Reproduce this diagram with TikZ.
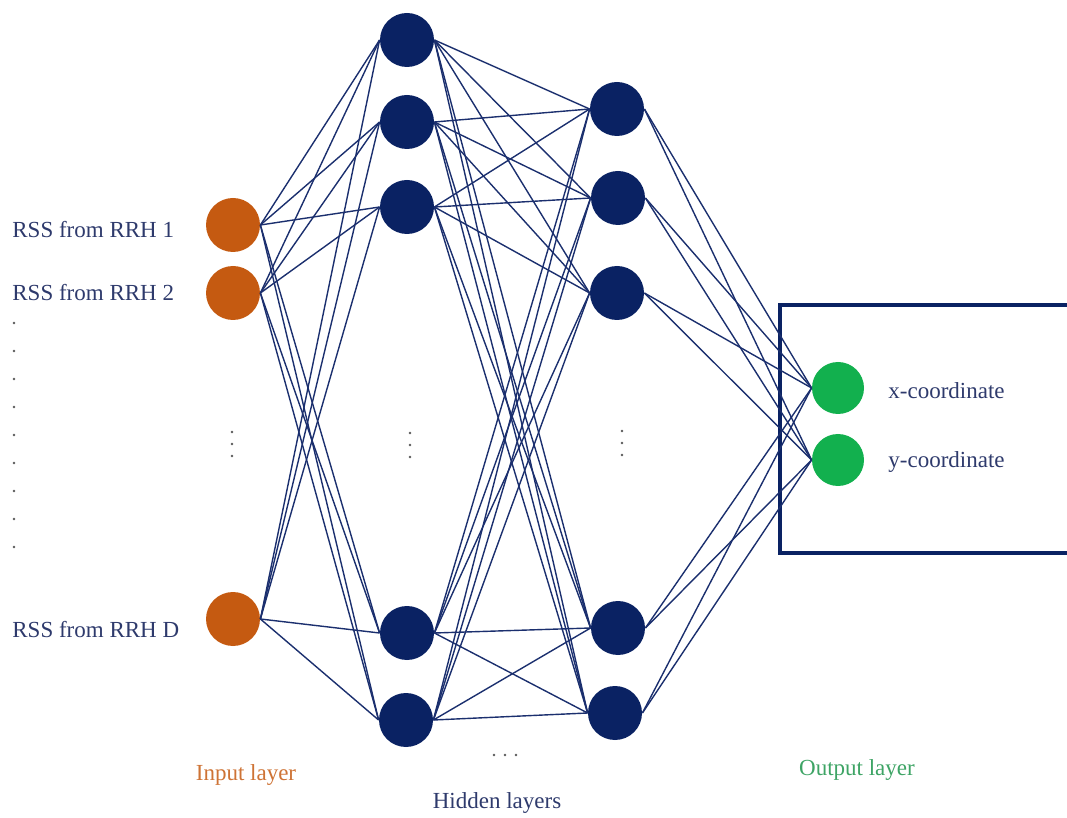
\documentclass[tikz,border=0pt]{standalone}
\usepackage{fontspec}
\setmainfont{Liberation Serif}
\definecolor{navy}{HTML}{0A2263}
\definecolor{wire}{HTML}{1B2F6E}
\definecolor{inorange}{HTML}{C55A11}
\definecolor{outgreen}{HTML}{12B04E}
\definecolor{txtblue}{HTML}{2E3A6C}

\begin{document}
\begin{tikzpicture} [
  x=0.5pt, y=-0.5pt,
  inp/.style={circle, fill=inorange, minimum size=27pt, inner sep=0pt},
  hid/.style={circle, fill=navy, minimum size=27pt, inner sep=0pt},
  outp/.style={circle, fill=outgreen, minimum size=26pt, inner sep=0pt},
  lbl/.style={text=txtblue, font=\fontsize{11.5}{14}\selectfont, inner sep=0pt},
  heading/.style={font=\fontsize{11.5}{14}\selectfont, inner sep=0pt}
  ]
  \useasboundingbox (0,0) rectangle (1067,818);

  % output box
  \draw[navy, line width=1.6pt] (780,305) rectangle (1080,553);

  % input layer
  \node(i1)[inp] at (233,225) {};
  \node(i2)[inp] at (233,293) {};
  \node(i3)[inp] at (233,619) {};
  % hidden layers
  \node(a1)[hid] at (407,40) {};
  \node(a2)[hid] at (407,122) {};
  \node(a3)[hid] at (407,207) {};
  \node(a4)[hid] at (407,633) {};
  \node(a5)[hid] at (406,720) {};
  \node(b1)[hid] at (617,109) {};
  \node(b2)[hid] at (618,198) {};
  \node(b3)[hid] at (617,293) {};
  \node(b4)[hid] at (618,628) {};
  \node(b5)[hid] at (615,713) {};
  % output layer
  \node(o1)[outp] at (838,388) {};
  \node(o2)[outp] at (838,460) {};

  \begin{scope}[wire, line width=0.7pt]
    \foreach \s in {1,2,3}
      \foreach \t in {1,...,5}
        \draw (i\s.east) -- (a\t.west);
    \foreach \s in {1,...,5}
      \foreach \t in {1,...,5}
        \draw (a\s.east) -- (b\t.west);
    \foreach \s in {1,...,5}
      \foreach \t in {1,2}
        \draw (b\s.east) -- (o\t.west);
  \end{scope}

  % labels
  \node(r1)[lbl, anchor=west] at (12,230) {RSS from RRH 1};
  \node(r2)[lbl, anchor=west] at (12,293) {RSS from RRH 2};
  \node(rd)[lbl, anchor=west] at (12,630) {RSS from RRH D};
  \node(xc)[lbl, anchor=west] at (888,391) {x-coordinate};
  \node(yc)[lbl, anchor=west] at (888,462) {y-coordinate};
  \node(il)[heading, text=inorange!85!white] at (246,775) {Input layer};
  \node(hl)[heading, text=txtblue] at (497,803) {Hidden layers};
  \node(ol)[heading, text=outgreen!80!black!80!white] at (857,770) {Output layer};

  % dots
  \begin{scope}[gray!70!black]
    \foreach \y in {0,...,8}
      \fill (14,323+28*\y) circle (0.7pt);
    \foreach \y in {0,1,2} {
      \fill (232,432+12*\y) circle (0.7pt);
      \fill (410,433+12*\y) circle (0.7pt);
      \fill (622,431+12*\y) circle (0.7pt);
      \fill (494+11*\y,755) circle (0.7pt);
    }
  \end{scope}
\end{tikzpicture}
\end{document}
